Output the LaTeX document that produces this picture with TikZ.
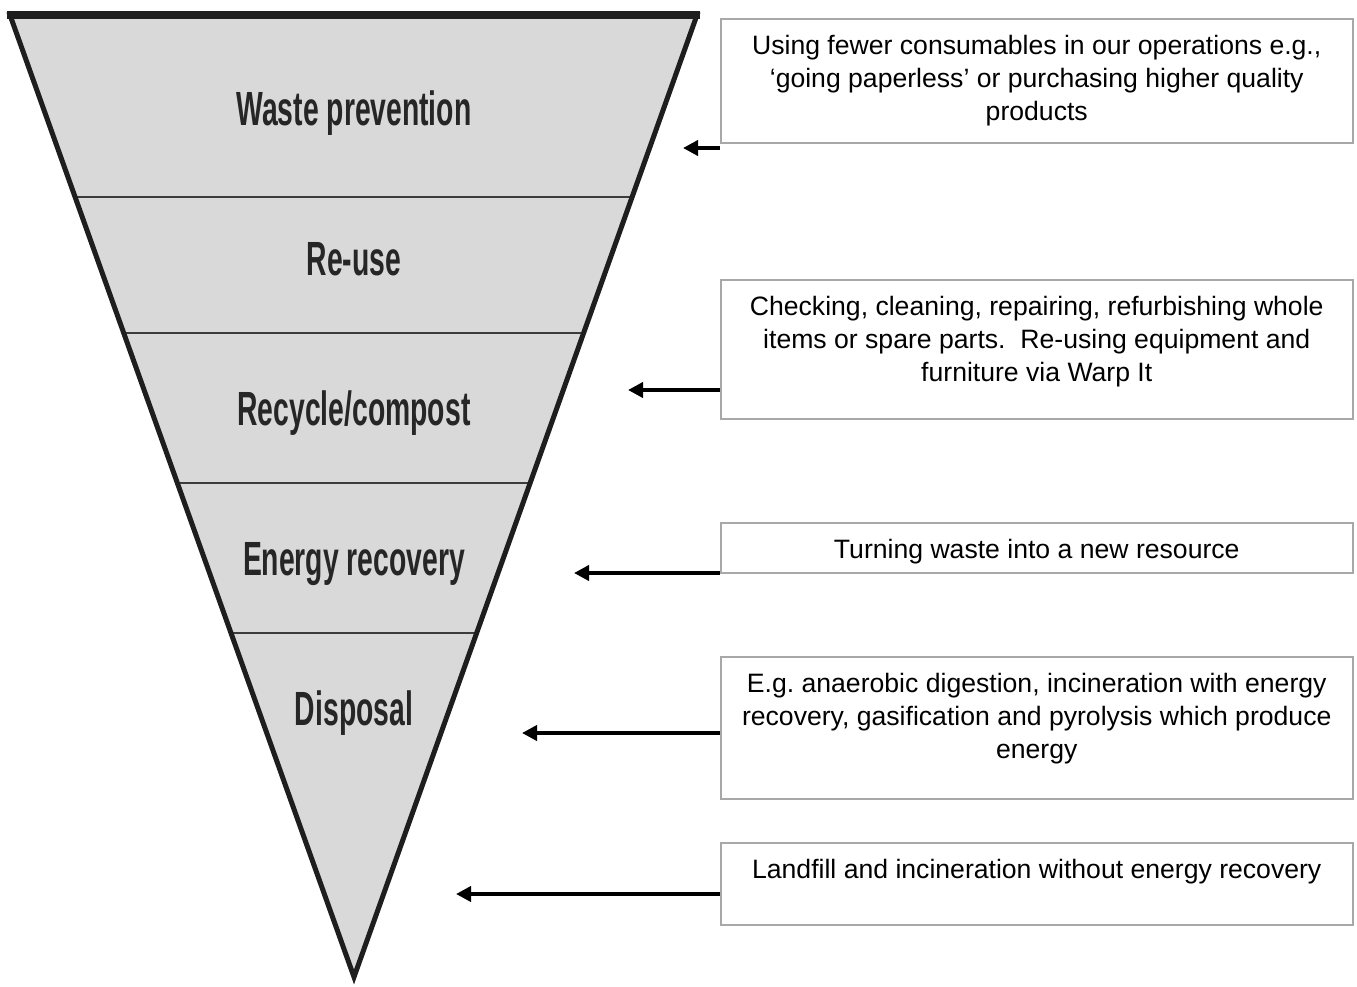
\documentclass[tikz,border=0pt]{standalone}
\usepackage{fontspec}
\setmainfont{Liberation Sans}
\newfontfamily\condfont[FakeStretch=0.59]{Liberation Sans}
\usetikzlibrary{arrows.meta,calc}
\definecolor{trigray}{HTML}{D9D9D9}
\definecolor{triline}{HTML}{1E1E1E}
\definecolor{divline}{HTML}{3C3C3C}
\definecolor{labgray}{HTML}{262626}
\definecolor{boxgray}{HTML}{A8A8A8}
\frenchspacing
\begin{document}
\begin{tikzpicture}[x=1pt,y=-1pt,
  tri/.style={draw=triline, line width=5pt, line join=miter},
  divider/.style={draw=divline, line width=2.5pt},
  lab/.style={font=\condfont\bfseries\fontsize{48}{48}\selectfont, text=labgray, anchor=base, inner sep=0pt},
  box/.style={draw=boxgray, line width=1.5pt, inner sep=0pt, anchor=north west, minimum width=632pt},
  boxtext/.style={font=\fontsize{26.6}{33}\selectfont, align=center, anchor=north, inner sep=0pt},
  arr/.style={line width=4pt, -{Triangle[length=15pt,width=15pt]}}
]
\useasboundingbox (0,0) rectangle (1357,986);
% triangle
\coordinate (TL) at (10,15);
\coordinate (TR) at (697,15);
\coordinate (A) at (354,977);
\fill[trigray] (TL) -- (TR) -- (A) -- cycle;
\foreach \yy/\nm in {197/d1,333/d2,483/d3,633/d4}{
  \draw[divider] ($(TL)!{(\yy-15)/962}!(A)$) -- ($(TR)!{(\yy-15)/962}!(A)$);
}
\draw[tri] (TL) -- (TR) -- (A) -- cycle;
\draw[draw=triline, line width=8pt] (7,15) -- (700,15);
% labels
\node[lab] (l1) at (354,125) {Waste prevention};
\node[lab] (l2) at (354,275) {Re-use};
\node[lab] (l3) at (354,425) {Recycle/compost};
\node[lab] (l4) at (354,575) {Energy recovery};
\node[lab] (l5) at (354,725) {Disposal};
% boxes
\node[box, minimum height=124pt] (b1) at (720,18) {};
\node[box, minimum height=139pt] (b2) at (720,279) {};
\node[box, minimum height=50pt] (b3) at (720,522) {};
\node[box, minimum height=142pt] (b4) at (720,656) {};
\node[box, minimum height=82pt] (b5) at (720,842) {};
\node[boxtext] (t1) at ($(b1.north)+(0,16.7)$) {Using fewer consumables in our operations e.g.,\\‘going paperless’ or purchasing higher quality\\products};
\node[boxtext] (t2) at ($(b2.north)+(0,16.7)$) {Checking, cleaning, repairing, refurbishing whole\\items or spare parts.\ \ Re-using equipment and\\furniture via Warp It};
\node[boxtext] (t3) at ($(b3.north)+(0,16.7)$) {Turning waste into a new resource};
\node[boxtext] (t4) at ($(b4.north)+(0,16.7)$) {E.g. anaerobic digestion, incineration with energy\\recovery, gasification and pyrolysis which produce\\energy};
\node[boxtext] (t5) at ($(b5.north)+(0,16.7)$) {Landfill and incineration without energy recovery};
% arrows
\coordinate (p1) at (683,148);
\coordinate (p2) at (628,390);
\coordinate (p3) at (574,573);
\coordinate (p4) at (522,733);
\coordinate (p5) at (456,894);
\draw[arr] (b1.west |- p1) -- (p1);
\draw[arr] (b2.west |- p2) -- (p2);
\draw[arr] (b3.west |- p3) -- (p3);
\draw[arr] (b4.west |- p4) -- (p4);
\draw[arr] (b5.west |- p5) -- (p5);
\end{tikzpicture}
\end{document}
